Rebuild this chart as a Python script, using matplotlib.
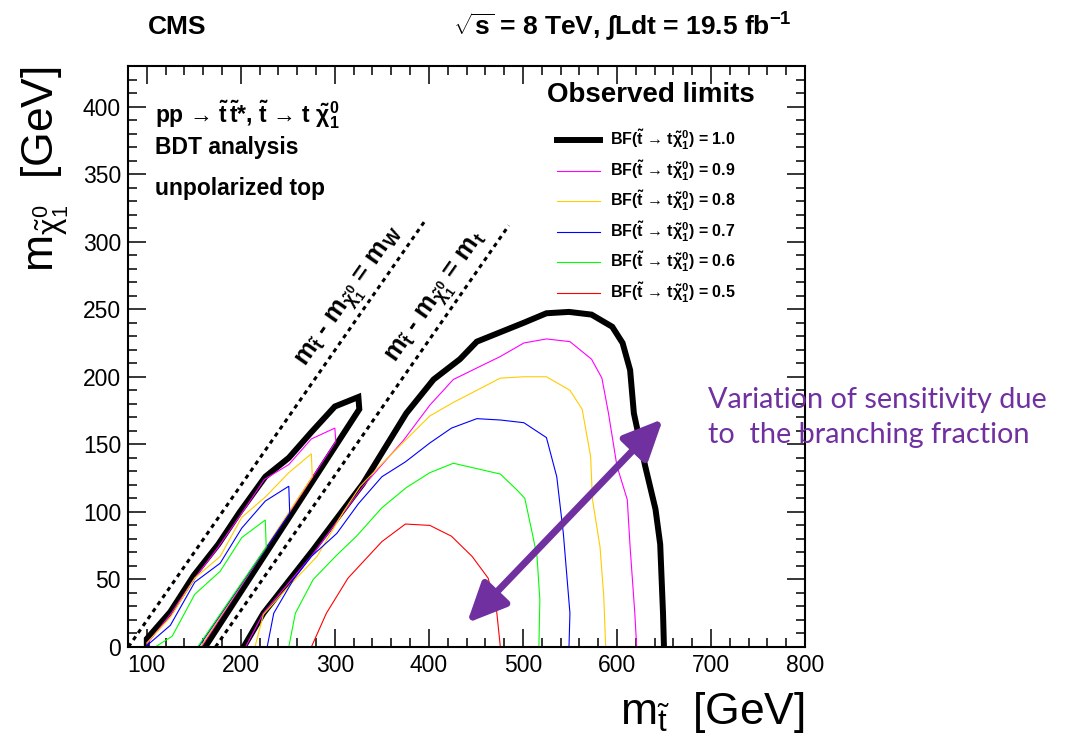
import numpy as np
import matplotlib.pyplot as plt

plt.rcParams['font.family'] = ['Liberation Sans', 'DejaVu Sans']
plt.rcParams['mathtext.default'] = 'regular'
plt.rcParams['mathtext.fontset'] = 'custom'
plt.rcParams['mathtext.rm'] = 'Liberation Sans'
plt.rcParams['mathtext.it'] = 'Liberation Sans:italic'
plt.rcParams['mathtext.bf'] = 'Liberation Sans:bold'

# observed limit contours, (m_stop, m_lsp) in GeV
bf_values = ['1.0', '0.9', '0.8', '0.7', '0.6', '0.5']
bf_colors = ['black', '#ff00ff', '#ffcc00', '#0000ff', '#00ff00', '#ff0000']

# BF = 1.0
bf10_band_x = [100, 100, 125, 150, 176, 199, 226, 251, 275, 300, 325, 326, 162]
bf10_band_y = [0, 6, 26, 53, 76, 100, 126, 140, 159, 178, 185, 176, 0]
bf10_main_x = [203, 224, 277, 330, 376, 405, 433, 451, 501, 525, 549, 573, 595, 606, 614, 618, 630, 641, 646, 649, 650]
bf10_main_y = [0, 25, 72, 121, 173, 198, 213, 226, 240, 247, 248, 246, 237, 225, 205, 173, 134, 102, 76, 25, 0]
# BF = 0.9
bf09_band_x = [100, 125, 150, 175, 200, 225, 251, 275, 300, 301, 158]
bf09_band_y = [2, 24, 50, 73, 98, 124, 135, 154, 162, 152, 0]
bf09_main_x = [205, 224, 277, 330, 373, 401, 426, 476, 501, 525, 550, 573, 584, 591, 600, 611, 614, 619, 621]
bf09_main_y = [0, 25, 69, 119, 153, 179, 198, 215, 225, 228, 226, 213, 199, 173, 134, 109, 74, 25, 0]
# BF = 0.8
bf08_band_x = [100, 125, 151, 178, 201, 226, 251, 275, 276, 157]
bf08_band_y = [3, 22, 51, 67, 96, 111, 129, 143, 126, 0]
bf08_main_x = [215, 224, 251, 281, 309, 327, 352, 375, 401, 426, 476, 501, 525, 550, 563, 572, 574, 582, 586, 588]
bf08_main_y = [0, 24, 45, 67, 100, 119, 137, 153, 171, 181, 199, 200, 200, 190, 176, 141, 109, 74, 37, 0]
# BF = 0.7
bf07_band_x = [100, 125, 151, 178, 201, 226, 251, 252, 155]
bf07_band_y = [1, 16, 48, 62, 88, 108, 119, 99, 0]
bf07_main_x = [228, 235, 256, 275, 302, 325, 350, 375, 401, 424, 451, 476, 501, 525, 536, 543, 550, 549]
bf07_main_y = [0, 25, 50, 67, 84, 106, 126, 137, 151, 162, 169, 168, 166, 155, 126, 84, 25, 0]
# BF = 0.6
bf06_band_x = [109, 127, 151, 178, 201, 226, 227, 154]
bf06_band_y = [0, 8, 39, 56, 81, 94, 74, 0]
bf06_main_x = [251, 258, 277, 302, 323, 350, 376, 401, 426, 451, 476, 494, 502, 510, 515, 518, 517]
bf06_main_y = [0, 25, 50, 68, 82, 103, 118, 129, 136, 132, 128, 116, 110, 84, 67, 35, 0]
# BF = 0.5
bf05_main_x = [275, 291, 314, 350, 375, 401, 424, 446, 463, 472, 476]
bf05_main_y = [0, 25, 51, 78, 91, 90, 82, 67, 51, 27, 0]

bands = [(bf10_band_x, bf10_band_y), (bf09_band_x, bf09_band_y), (bf08_band_x, bf08_band_y),
         (bf07_band_x, bf07_band_y), (bf06_band_x, bf06_band_y), None]
mains = [(bf10_main_x, bf10_main_y), (bf09_main_x, bf09_main_y), (bf08_main_x, bf08_main_y),
         (bf07_main_x, bf07_main_y), (bf06_main_x, bf06_main_y), (bf05_main_x, bf05_main_y)]

# kinematic lines m_stop - m_lsp = m_W and = m_top
mW, mtop = 80.4, 173.0
diag_w_x = [mW, 395]
diag_t_x = [mtop, 485]

fig = plt.figure(figsize=(10.81, 7.40), dpi=100)
ax = fig.add_axes([128 / 1081, 1 - 647 / 740, 677 / 1081, 581 / 740])

ax.plot(diag_w_x, np.array(diag_w_x) - mW, color='black', lw=2.2, dashes=(1.4, 1.4))
ax.plot(diag_t_x, np.array(diag_t_x) - mtop, color='black', lw=2.2, dashes=(1.4, 1.4))

handles = []
for i in range(len(bf_values)):
    lw = 4.3 if i == 0 else 0.8
    if bands[i] is not None:
        ax.plot(bands[i][0], bands[i][1], color=bf_colors[i], lw=lw, solid_joinstyle='miter')
    h, = ax.plot(mains[i][0], mains[i][1], color=bf_colors[i], lw=lw, solid_joinstyle='miter')
    handles.append(h)

ax.set_xlim(80, 800)
ax.set_ylim(0, 430)
ax.set_xticks(np.arange(100, 801, 100))
ax.set_xticks(np.arange(80, 801, 20), minor=True)
ax.set_yticks(np.arange(0, 401, 50))
ax.set_yticks(np.arange(0, 431, 10), minor=True)
ax.tick_params(which='both', direction='in', top=True, right=True, width=1.1, labelsize=16.5, pad=5)
ax.tick_params(which='major', length=13)
ax.tick_params(which='minor', length=6.5)
for s in ax.spines.values():
    s.set_linewidth(1.5)

ax.set_xlabel(r'$m_{\tilde{t}}$  [GeV]', fontsize=32, ha='right', va='center')
ax.xaxis.set_label_coords(1.0, -0.112)
ax.set_ylabel(r'$m_{\tilde{\chi}^{0}_{1}}$  [GeV]', fontsize=32, ha='right', va='center')
ax.yaxis.set_label_coords(-0.1226, 1.0)

ax.text(318, 258, r'$m_{\tilde{t}}$ - $m_{\tilde{\chi}^{0}_{1}}$ = $m_{W}$', fontsize=18.5, fontweight='bold',
        rotation=55, ha='center', va='center')
ax.text(410, 258, r'$m_{\tilde{t}}$ - $m_{\tilde{\chi}^{0}_{1}}$ = $m_{t}$', fontsize=18.5, fontweight='bold',
        rotation=55, ha='center', va='center')

ax.text(0.04, 0.916, r'pp → $\tilde{t}\,\tilde{t}$*, $\tilde{t}$ → t $\tilde{\chi}^{0}_{1}$',
        transform=ax.transAxes, fontsize=16.5, fontweight='bold', va='center')
ax.text(0.04, 0.859, 'BDT analysis', transform=ax.transAxes, fontsize=16.5, fontweight='bold', va='center')
ax.text(0.04, 0.79, 'unpolarized top', transform=ax.transAxes, fontsize=16.5, fontweight='bold', va='center')

ax.text((547 - 128) / 677, (647 - 95) / 581, 'Observed limits', transform=ax.transAxes,
        fontsize=20, fontweight='bold', va='center')
labels = [r'BF($\tilde{t}$ → t$\tilde{\chi}^{0}_{1}$) = ' + v for v in bf_values]
ax.legend(handles, labels, loc='upper left', bbox_to_anchor=((557 - 128) / 677, (647 - 128) / 581),
          frameon=False, prop={'weight': 'bold', 'size': 11.5}, handlelength=2.7, handletextpad=0.6,
          labelspacing=0.41, borderpad=0, borderaxespad=0)

fig.text(148 / 1081, 1 - 27 / 740, 'CMS', fontsize=19, fontweight='bold', va='center')
fig.text(792 / 1081, 1 - 27 / 740, r'$\sqrt{s}$ = 8 TeV, $\int$Ldt = 19.5 fb$^{-1}$',
         fontsize=19, fontweight='bold', ha='right', va='center')

# slide annotation
purple = '#7030a0'
ax.annotate('', xy=(467, 117), xytext=(663, 321), xycoords='figure pixels', textcoords='figure pixels',
            annotation_clip=False,
            arrowprops=dict(arrowstyle='<|-|>,head_length=1.2,head_width=0.55', color=purple, lw=5,
                            mutation_scale=20, shrinkA=0, shrinkB=0))
note_lines = ['Variation of sensitivity due', 'to  the branching fraction']
for k, line in enumerate(note_lines):
    fig.text(708 / 1081, 1 - (408 + 35 * k) / 740, line, family=['Lato', 'DejaVu Sans'], fontsize=20.8,
             color=purple, va='baseline')

fig.savefig('out.png', dpi=100)
